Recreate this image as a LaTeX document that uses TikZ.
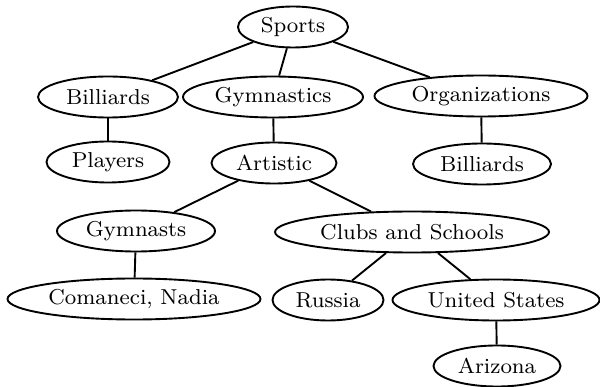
\documentclass[tikz,border=0pt]{standalone}
\usetikzlibrary{shapes.geometric}
\def\pxu{0.38pt}
\tikzset{
  el/.style={draw, ellipse, line width=0.72pt, inner sep=0pt, minimum height={41*\pxu},
    font=\fontsize{8.2}{9.6}\selectfont},
  edge/.style={line width=0.72pt},
}
\begin{document}
\begin{tikzpicture}[x=0.38pt, y=-0.38pt]
\useasboundingbox (0,0) rectangle (600,387);
\node[el, minimum width={110*\pxu}] (sports) at (293,27) {Sports};
\node[el, minimum width={140*\pxu}] (bil1) at (108,97) {Billiards};
\node[el, minimum width={180*\pxu}] (gym) at (273,97) {Gymnastics};
\node[el, minimum width={213*\pxu}] (org) at (481,96) {Organizations};
\node[el, minimum width={123*\pxu}] (players) at (108,162) {Players};
\node[el, minimum width={125*\pxu}] (art) at (274,163) {Artistic};
\node[el, minimum width={138*\pxu}] (bil2) at (482,164) {Billiards};
\node[el, minimum width={158*\pxu}] (gymn) at (136,231) {Gymnasts};
\node[el, minimum width={274*\pxu}] (clubs) at (412,232) {Clubs and Schools};
\node[el, minimum width={253*\pxu}] (coma) at (134,299) {Comaneci, Nadia};
\node[el, minimum width={111*\pxu}] (russia) at (328,300) {Russia};
\node[el, minimum width={207*\pxu}] (us) at (496,300) {United States};
\node[el, minimum width={127*\pxu}] (ariz) at (497,366) {Arizona};
\draw[edge] (sports) -- (bil1);
\draw[edge] (sports) -- (gym);
\draw[edge] (sports) -- (org);
\draw[edge] (bil1) -- (players);
\draw[edge] (gym) -- (art);
\draw[edge] (org) -- (bil2);
\draw[edge] (art) -- (gymn);
\draw[edge] (art) -- (clubs);
\draw[edge] (gymn) -- (coma);
\draw[edge] (clubs) -- (russia);
\draw[edge] (clubs) -- (us);
\draw[edge] (us) -- (ariz);
\end{tikzpicture}
\end{document}
